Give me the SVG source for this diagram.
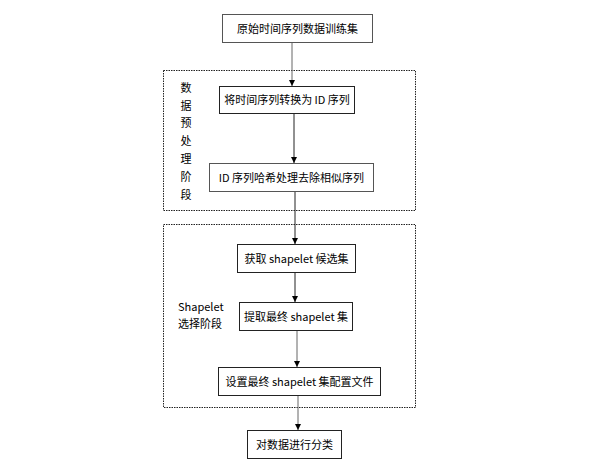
<svg xmlns="http://www.w3.org/2000/svg" width="594" height="464" viewBox="0 0 594 464">
<style>
.box{fill:#fff;stroke:#222;stroke-width:1}
.gbox{fill:#fff;stroke:#555;stroke-width:1}
.grp{fill:none;stroke:#222;stroke-width:1;stroke-dasharray:1.5 1}
.t{font-family:"Noto Sans CJK SC","Liberation Sans",sans-serif;font-size:11px;fill:#000;text-anchor:middle}
.l{font-family:"Noto Sans CJK SC","Liberation Sans",sans-serif;font-size:11px;fill:#000}
.c{stroke:#222;stroke-width:1;fill:none;marker-end:url(#ah)}
.cg{stroke:#666;stroke-width:1;fill:none;marker-end:url(#ah)}
</style>
<defs>
<marker id="ah" viewBox="0 0 6 6" refX="6" refY="3" markerWidth="6" markerHeight="6" markerUnits="userSpaceOnUse" orient="auto">
<path d="M0,0 L6,3 L0,6 Z" fill="#000"/>
</marker>
</defs>
<rect width="594" height="464" fill="#fff"/>
<g id="group1">
<rect class="grp" x="163.5" y="70.5" width="252" height="140"/>
<g class="l" text-anchor="middle">
<text x="186" y="92">数</text>
<text x="186" y="110">据</text>
<text x="186" y="127">预</text>
<text x="186" y="145">处</text>
<text x="186" y="163">理</text>
<text x="186" y="181">阶</text>
<text x="186" y="199">段</text>
</g>
</g>
<g id="group2">
<rect class="grp" x="163.5" y="224.5" width="252" height="183"/>
<text class="l" x="178" y="311">Shapelet</text>
<text class="l" x="178" y="328">选择阶段</text>
</g>
<g id="connectors">
<line class="cg" x1="292" y1="42" x2="292" y2="86"/>
<line class="c" x1="294" y1="113" x2="294" y2="163"/>
<line class="c" x1="295" y1="191" x2="295" y2="244"/>
<line class="c" x1="295" y1="272" x2="295" y2="302"/>
<line class="cg" x1="297" y1="330" x2="297" y2="367"/>
<line class="cg" x1="298" y1="395" x2="298" y2="430"/>
</g>
<g id="n1"><rect class="gbox" x="222.5" y="14.5" width="150" height="28"/><text class="t" x="297.5" y="32.5">原始时间序列数据训练集</text></g>
<g id="n2"><rect class="box" x="219.5" y="86.5" width="135" height="27"/><text class="t" x="287" y="104">将时间序列转换为 ID 序列</text></g>
<g id="n3"><rect class="gbox" x="209.5" y="163.5" width="164" height="28"/><text class="t" x="291.5" y="181.5">ID 序列哈希处理去除相似序列</text></g>
<g id="n4"><rect class="box" x="237.5" y="244.5" width="118" height="28"/><text class="t" x="296.5" y="262.5">获取 shapelet 候选集</text></g>
<g id="n5"><rect class="box" x="239.5" y="302.5" width="113" height="28"/><text class="t" x="296" y="320.5">提取最终 shapelet 集</text></g>
<g id="n6"><rect class="box" x="218.5" y="367.5" width="162" height="28"/><text class="t" x="299.5" y="385.5">设置最终 shapelet 集配置文件</text></g>
<g id="n7"><rect class="box" x="247.5" y="430.5" width="94" height="28"/><text class="t" x="294.5" y="448.5">对数据进行分类</text></g>
</svg>
